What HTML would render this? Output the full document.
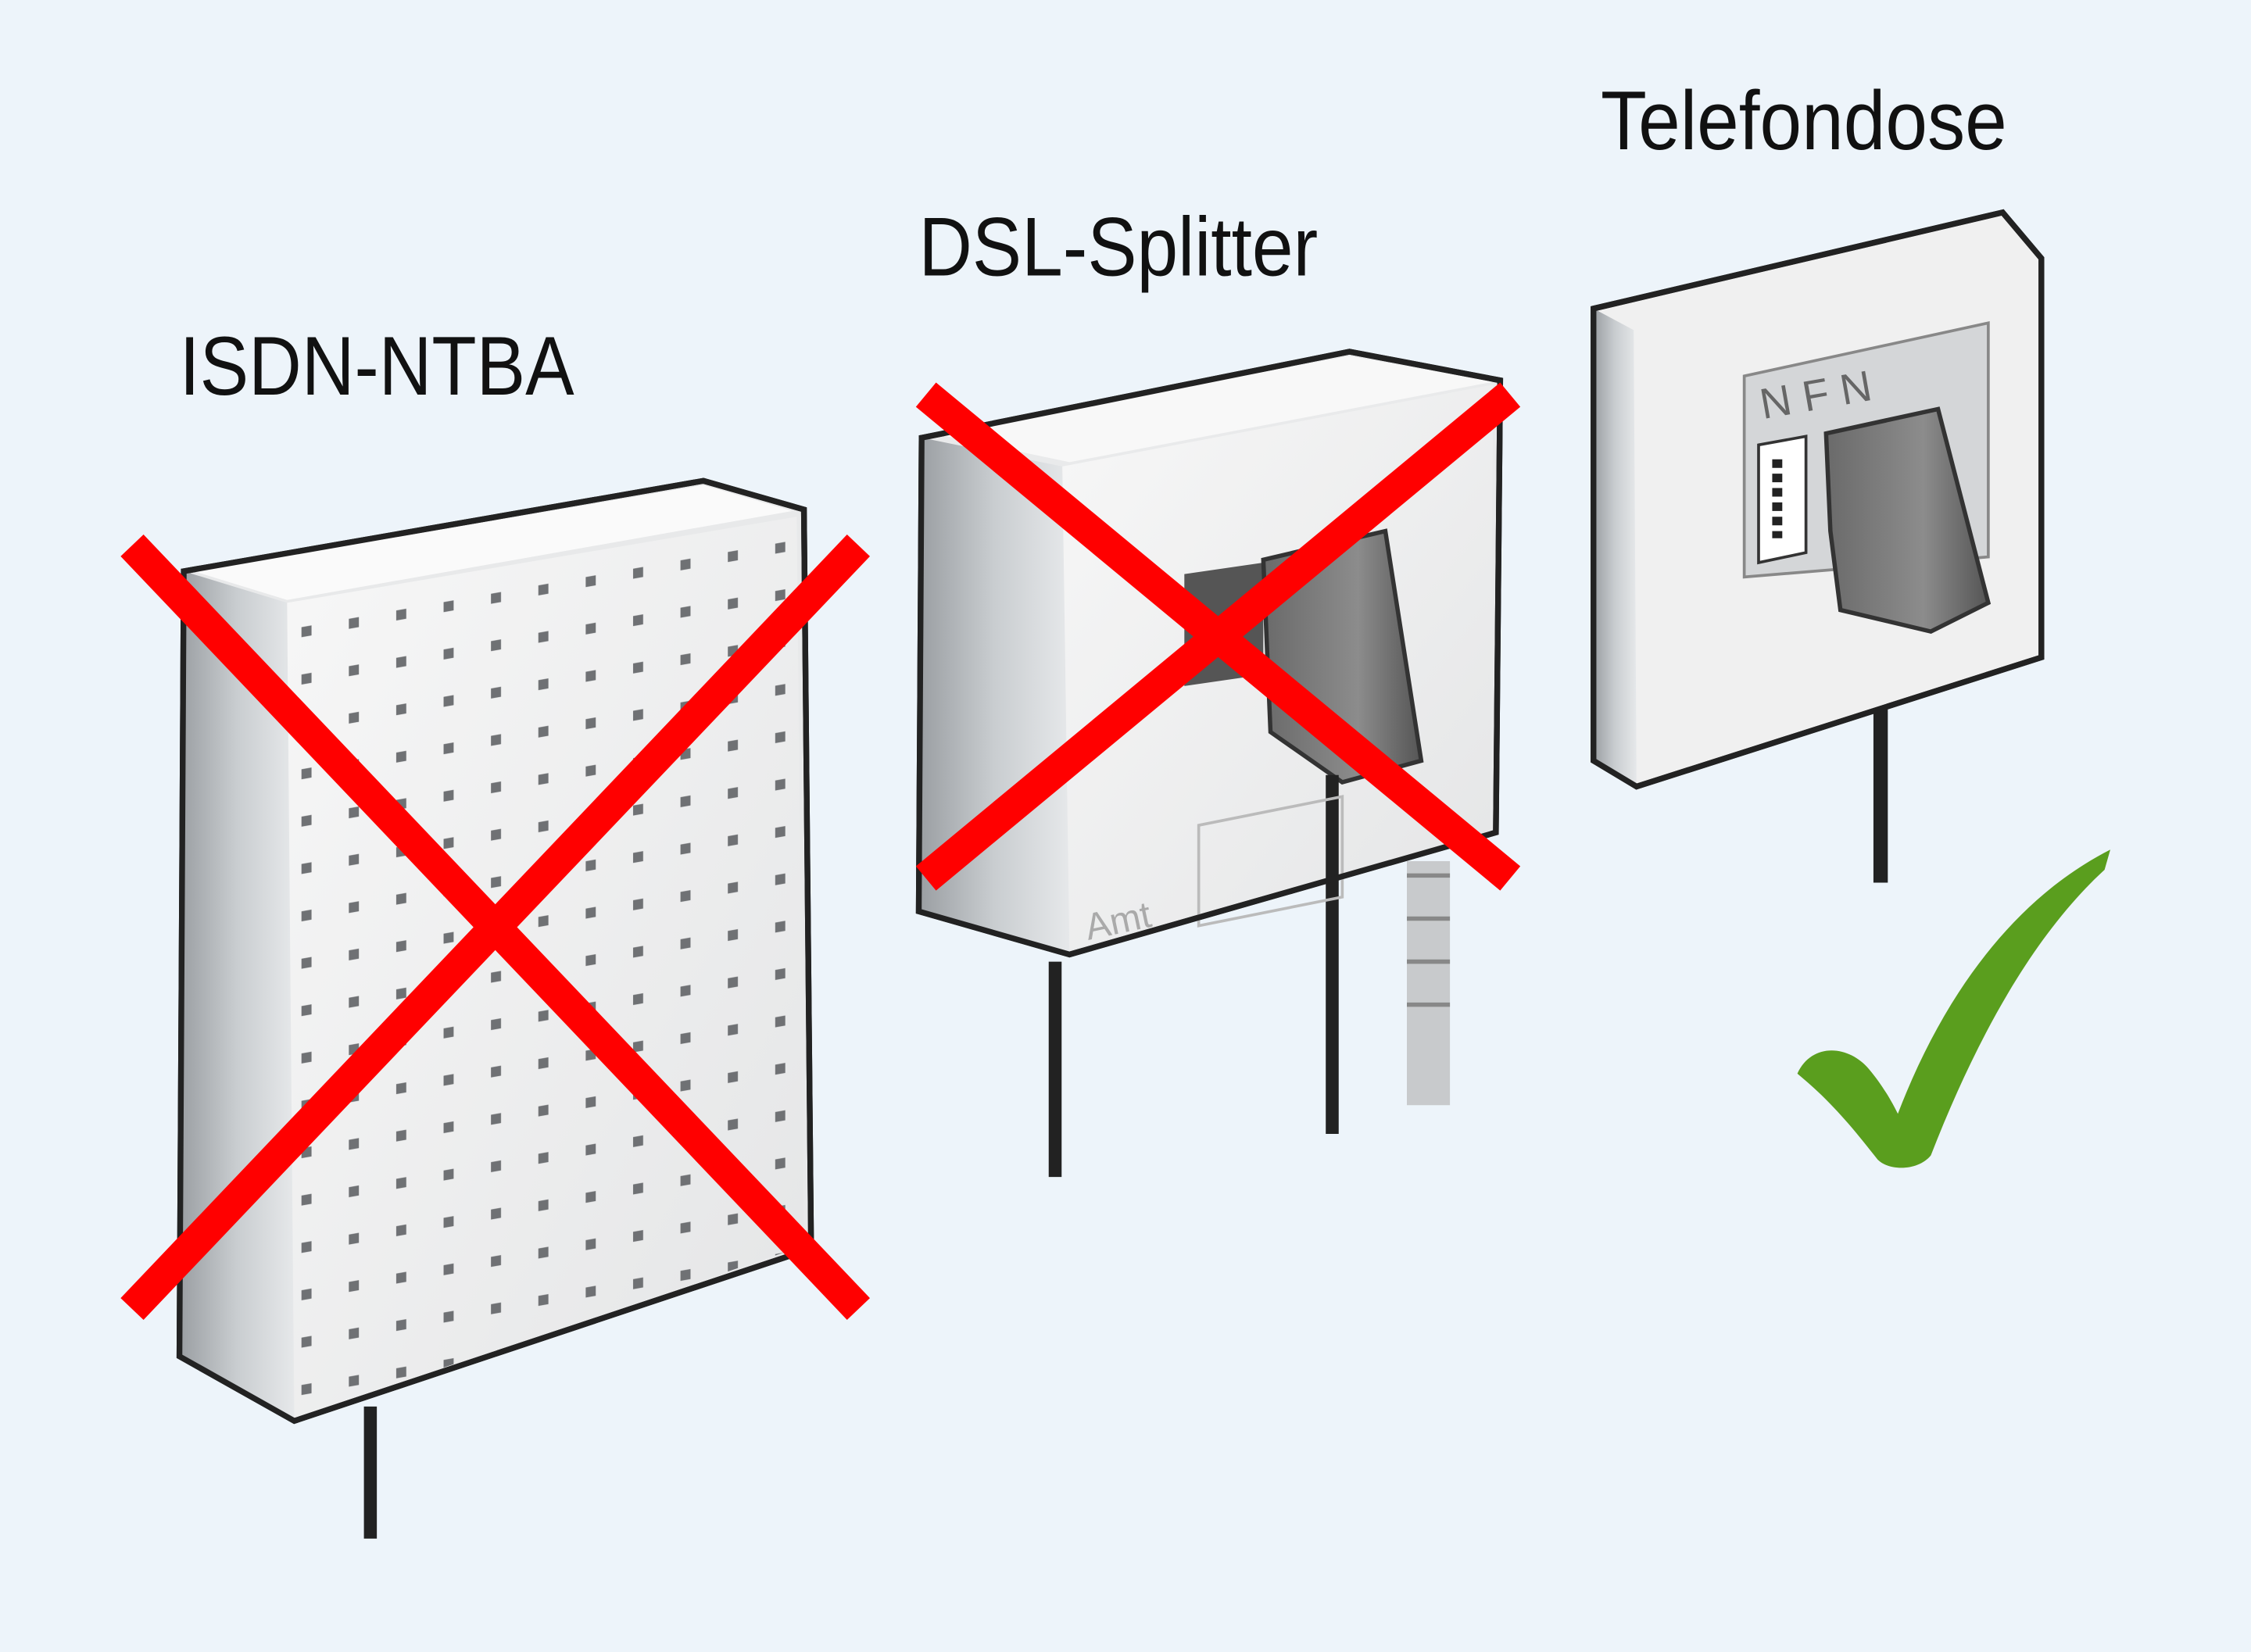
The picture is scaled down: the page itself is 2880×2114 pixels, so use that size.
<!DOCTYPE html>
<html><head><meta charset="utf-8"><style>
html,body{margin:0;padding:0;background:#edf4fa;}
svg{display:block;}
text{font-family:"Liberation Sans",sans-serif;fill:#111;}
</style></head><body>
<svg width="2880" height="2114" viewBox="0 0 1568 1151" preserveAspectRatio="none" xmlns="http://www.w3.org/2000/svg">
<defs>
<linearGradient id="side" x1="0" x2="1" y1="0" y2="0"><stop offset="0" stop-color="#9a9ea2"/><stop offset="0.5" stop-color="#c9cdd0"/><stop offset="1" stop-color="#e6e8ea"/></linearGradient>
<linearGradient id="front" x1="0" x2="1" y1="0" y2="1"><stop offset="0" stop-color="#f7f7f7"/><stop offset="1" stop-color="#e4e5e6"/></linearGradient>
<linearGradient id="plug" x1="0" x2="1"><stop offset="0" stop-color="#6a6a6a"/><stop offset="0.6" stop-color="#8c8c8c"/><stop offset="1" stop-color="#555"/></linearGradient>
<pattern id="dots" width="33" height="33" patternUnits="userSpaceOnUse" patternTransform="skewY(-10)"><rect x="12" y="12" width="7" height="7" fill="#6f7174"/></pattern>
</defs>
<rect width="1568" height="1151" fill="#edf4fa"/>

<text x="125" y="275" font-size="58" textLength="275" lengthAdjust="spacingAndGlyphs">ISDN-NTBA</text>
<text x="640" y="192" font-size="58" textLength="278" lengthAdjust="spacingAndGlyphs">DSL-Splitter</text>
<text x="1115" y="104" font-size="58" textLength="283" lengthAdjust="spacingAndGlyphs">Telefondose</text>

<!-- NTBA -->
<line x1="258" y1="980" x2="258" y2="1072" stroke="#222" stroke-width="9"/>
<path d="M128,398 L490,335 L560,355 L565,870 L205,990 L125,945 Z" fill="#e8e9ea" stroke="#222" stroke-width="4"/>
<path d="M128,398 L200,420 L205,990 L125,945 Z" fill="url(#side)"/>
<path d="M135,398 L490,338 L552,356 L200,418 Z" fill="#fafafa"/>
<path d="M200,420 L555,360 L560,868 L205,988 Z" fill="url(#front)"/>
<path d="M200,420 L555,360 L560,868 L205,988 Z" fill="url(#dots)"/>
<path d="M128,398 L490,335 L560,355 L565,870 L205,990 L125,945 Z" fill="none" stroke="#222" stroke-width="4"/>

<!-- Splitter -->
<line x1="735" y1="670" x2="735" y2="820" stroke="#222" stroke-width="9"/>
<line x1="995" y1="600" x2="995" y2="770" stroke="#c8cacc" stroke-width="30"/>
<path d="M980,610 h30 M980,640 h30 M980,670 h30 M980,700 h30" stroke="#888" stroke-width="3"/>
<path d="M642,305 L940,245 L1045,265 L1042,580 L745,665 L640,635 Z" fill="#e9eaeb" stroke="#222" stroke-width="4"/>
<path d="M642,305 L740,325 L745,665 L640,635 Z" fill="url(#side)"/>
<path d="M650,302 L940,248 L1040,266 L745,322 Z" fill="#f8f8f8"/>
<path d="M740,325 L1040,268 L1038,580 L745,662 Z" fill="url(#front)"/>
<path d="M825,400 L880,392 L880,470 L825,478 Z" fill="#555"/>
<path d="M880,390 L965,370 L990,530 L935,545 L885,510 Z" fill="url(#plug)" stroke="#333" stroke-width="3"/>
<line x1="928" y1="540" x2="928" y2="790" stroke="#222" stroke-width="9"/>
<path d="M835,575 L935,555 L935,625 L835,645 Z" fill="none" stroke="#bbb" stroke-width="2"/>
<text x="758" y="655" font-size="26" style="fill:#aaa" transform="rotate(-12 758 655)">Amt</text>
<path d="M642,305 L940,245 L1045,265 L1042,580 L745,665 L640,635 Z" fill="none" stroke="#222" stroke-width="4"/>

<!-- Telefondose -->
<line x1="1310" y1="420" x2="1310" y2="615" stroke="#222" stroke-width="10"/>
<path d="M1110,215 L1395,148 L1422,180 L1422,458 L1140,548 L1110,530 Z" fill="#f0f0f0" stroke="#222" stroke-width="4"/>
<path d="M1110,215 L1138,230 L1140,548 L1110,530 Z" fill="url(#side)"/>
<path d="M1215,262 L1385,225 L1385,388 L1215,402 Z" fill="#d4d6d8" stroke="#888" stroke-width="2"/>
<text x="1228" y="292" font-size="30" style="fill:#666" transform="rotate(-10 1228 292)">N  F  N</text>
<path d="M1225,310 L1258,304 L1258,385 L1225,392 Z" fill="#fff" stroke="#333" stroke-width="2"/>
<path d="M1238,320 v55" stroke="#222" stroke-width="7" stroke-dasharray="6 4"/>
<path d="M1272,302 L1350,285 L1385,420 L1345,440 L1282,425 L1275,370 Z" fill="url(#plug)" stroke="#333" stroke-width="3"/>
<path d="M1110,215 L1395,148 L1422,180 L1422,458 L1140,548 L1110,530 Z" fill="none" stroke="#222" stroke-width="4"/>

<!-- red X marks -->
<g stroke="#ff0000" stroke-width="22" stroke-linecap="butt">
<line x1="92" y1="380" x2="598" y2="912"/>
<line x1="598" y1="380" x2="92" y2="912"/>
<line x1="645" y1="275" x2="1052" y2="612"/>
<line x1="1052" y1="275" x2="645" y2="612"/>
</g>

<!-- check mark -->
<path d="M1252,748 C1262,726 1288,728 1302,745 C1312,757 1318,768 1322,776 C1355,690 1405,625 1470,592 L1466,606 C1418,650 1378,720 1345,805 C1336,816 1316,816 1308,808 C1290,785 1275,767 1252,748 Z" fill="#5a9e1e"/>
</svg>
</body></html>
